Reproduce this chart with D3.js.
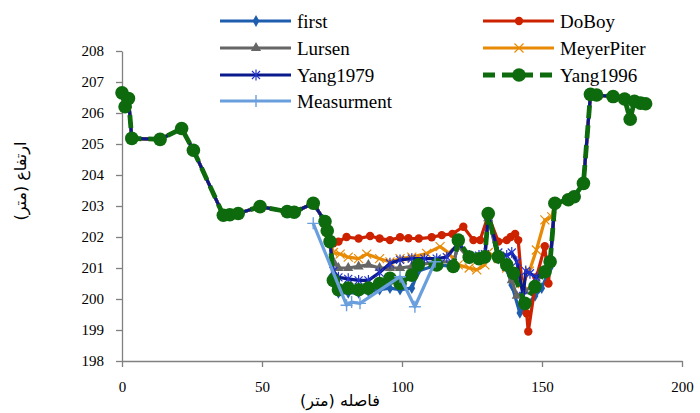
<!DOCTYPE html>
<html>
<head>
<meta charset="utf-8">
<script src="https://cdn.jsdelivr.net/npm/d3@7"></script>
<style>
  html, body { margin: 0; padding: 0; background: #fff; }
  svg { display: block; }
</style>
</head>
<body>
<svg id="chart" width="700" height="413"></svg>
<script>
// Bank profile shared by every computed bed (left and right of the channel)
const bankLeftX  = [0, 1.1, 2.3, 3.5, 13.6, 21.3, 25.5, 36.2, 38.5, 41.5, 49.3, 59, 61.5, 68.3];
const bankLeftY  = [206.65, 206.2, 206.47, 205.18, 205.15, 205.5, 204.8, 202.7, 202.72, 202.76, 202.98, 202.82, 202.8, 203.09];
const bankRightX = [154.6, 159.4, 161.5, 164.8, 167.3, 169.5, 175.4, 179.5, 181.5, 183, 185.2, 187];
const bankRightY = [203.09, 203.2, 203.3, 203.73, 206.6, 206.58, 206.53, 206.45, 205.8, 206.38, 206.32, 206.3];

// Channel stretch of each series
const firstX = [72.5, 74.3, 75.5, 77.3, 80.8, 84.5, 88, 92, 95.7, 99.3, 103.5, 105.8, 112.4, 118.3, 120.1, 124, 127.5, 129.6, 130.8, 134.4, 137.4, 139.2, 142.1, 144, 147.5, 149.9, 152.9];
const firstY = [202.5, 201.85, 200.5, 200.2, 200.2, 200.2, 200.25, 200.3, 200.35, 200.3, 200.35, 200.9, 201.1, 201.05, 201.85, 201.3, 201.3, 201.3, 202.7, 201.3, 201.0, 200.45, 199.55, 199.75, 200.1, 200.35, 201.0];

const doboyX = [72.5, 74.3, 75.5, 77.3, 80.2, 84.5, 88.6, 92, 95.7, 99.3, 102.3, 106, 110.6, 114.2, 118, 121.9, 125.5, 127.9, 130.8, 134.4, 137.4, 138.8, 140.4, 141.5, 143.5, 144.5, 145.1, 148, 151, 152.3];
const doboyY = [202.5, 201.85, 201.8, 201.85, 202.0, 201.95, 202.03, 201.95, 201.9, 201.99, 201.96, 201.95, 201.99, 202.06, 202.1, 202.33, 201.9, 201.9, 202.7, 201.85, 201.9, 202.0, 202.1, 201.9, 199.8, 199.54, 198.95, 200.7, 201.7, 200.5];

const lursenX = [72.5, 74.3, 75.5, 77.3, 80.8, 84.5, 88, 92, 95.7, 99.3, 103.5, 105.8, 112.4, 118.3, 120.1, 124, 127.5, 129.6, 130.8, 134.4, 137.4, 139.2, 141, 143.9, 147.5, 151.1, 152.9];
const lursenY = [202.5, 201.85, 201.2, 201.0, 201.0, 201.05, 201.1, 201.0, 201.0, 201.0, 201.05, 201.1, 201.2, 201.2, 201.7, 201.3, 201.3, 201.35, 202.6, 201.3, 201.0, 200.6, 200.1, 200.25, 200.5, 200.9, 201.2];

const meyerX = [72.5, 74.3, 75.5, 77.9, 80.8, 84.5, 87.4, 92, 95.7, 99.3, 103.5, 108.8, 113.6, 116.5, 120.1, 124, 126.7, 129.6, 130.8, 134.4, 137.4, 139.8, 143, 145.5, 148, 151, 153.5];
const meyerY = [202.5, 201.85, 201.5, 201.45, 201.35, 201.3, 201.45, 201.3, 201.2, 201.3, 201.35, 201.47, 201.69, 201.5, 201.1, 201.0, 200.94, 201.1, 201.5, 201.3, 201.0, 200.8, 200.5, 200.9, 201.58, 202.55, 202.65];

const yang79X = [72.5, 74.3, 75.5, 77.3, 80.8, 84.5, 88, 92, 95.7, 99.3, 103.5, 108, 112.4, 116, 120.1, 124, 127.5, 129.6, 130.8, 134.4, 137.4, 139.2, 141, 143.3, 144.2, 145.7, 148, 151.1, 152.9];
const yang79Y = [202.5, 201.85, 200.9, 200.7, 200.65, 200.6, 200.6, 200.85, 201.15, 201.26, 201.3, 201.3, 201.3, 201.35, 201.8, 201.4, 201.4, 201.45, 202.7, 201.5, 201.4, 201.5, 201.2, 200.1, 200.9, 200.83, 200.7, 200.9, 201.2];

const yang96X = [72.5, 73.3, 74.3, 75.5, 77.3, 80.8, 84.5, 88, 92, 95.7, 99.3, 103.5, 105.8, 112.4, 118.3, 120.1, 124, 127.5, 129.6, 130.8, 134.4, 137.4, 139.8, 143.9, 147.5, 151.1, 152.9];
const yang96Y = [202.5, 202.2, 201.85, 200.6, 200.3, 200.35, 200.3, 200.35, 200.5, 200.67, 200.5, 200.77, 201.1, 201.1, 201.05, 201.9, 201.35, 201.3, 201.36, 202.76, 201.36, 201.1, 200.83, 199.86, 200.4, 200.88, 201.2];

// Surveyed bed (channel only)
const measX = [68.3, 80.2, 82, 85, 99.3, 104.6, 111.8];
const measY = [202.44, 199.8, 199.9, 199.86, 200.72, 199.75, 201.2];

const xTicks = [0, 50, 100, 150, 200];
const yTicks = [198, 199, 200, 201, 202, 203, 204, 205, 206, 207, 208];
const xTitle = "فاصله (متر)";
const yTitle = "ارتفاع (متر)";

const serifFont = "'Liberation Serif', 'DejaVu Serif', 'Times New Roman', serif";
const arabicFont = "'DejaVu Sans', 'Noto Sans', sans-serif";

const zip = (xs, ys) => xs.map((d, i) => ({ x: d, y: ys[i] }));
const withBanks = (xs, ys) => zip(bankLeftX, bankLeftY).concat(zip(xs, ys), zip(bankRightX, bankRightY));

const series = [
  { name: "first",      color: "#1F5DAE", width: 3.2, dash: null,   marker: "diamond",  pts: withBanks(firstX, firstY) },
  { name: "DoBoy",      color: "#CC2200", width: 3.2, dash: null,   marker: "circle",   pts: withBanks(doboyX, doboyY) },
  { name: "Lursen",     color: "#666666", width: 3.2, dash: null,   marker: "triangle", pts: withBanks(lursenX, lursenY) },
  { name: "MeyerPiter", color: "#E88A05", width: 3.2, dash: null,   marker: "x",        pts: withBanks(meyerX, meyerY) },
  { name: "Yang1979",   color: "#0A1A8C", width: 3.2, dash: null,   marker: "star",     pts: withBanks(yang79X, yang79Y) },
  { name: "Yang1996",   color: "#0D6A0D", width: 4.8, dash: "13,7", marker: "bigcircle", pts: withBanks(yang96X, yang96Y) },
  { name: "Measurment", color: "#6A9FDE", width: 3.2, dash: null,   marker: "plus",     pts: zip(measX, measY) }
];

const svg = d3.select("#chart");
const x = d3.scaleLinear().domain([0, 200]).range([122, 682]);
const y = d3.scaleLinear().domain([198, 208]).range([361, 51]);

// Axes
const axisColor = "#808080";
const gx = svg.append("g").attr("transform", `translate(0,${y(198)})`)
  .call(d3.axisBottom(x).tickValues(xTicks).tickSize(6).tickSizeOuter(0).tickPadding(14));
const gy = svg.append("g").attr("transform", `translate(${x(0)},0)`)
  .call(d3.axisLeft(y).tickValues(yTicks).tickSize(6).tickSizeOuter(0).tickPadding(12));
[gx, gy].forEach(g => {
  g.attr("font-family", null).attr("font-size", null);
  g.select(".domain").attr("stroke", axisColor).attr("stroke-width", 1.3);
  g.selectAll(".tick line").attr("stroke", axisColor).attr("stroke-width", 1.3);
  g.selectAll(".tick text").style("font-family", serifFont).style("font-size", "15px").attr("fill", "#000");
});

// Marker drawing
function drawMarker(sel, kind, color) {
  if (kind === "diamond") {
    sel.append("path").attr("d", d3.symbol(d3.symbolDiamond, 40)()).attr("fill", color);
  } else if (kind === "circle") {
    sel.append("circle").attr("r", 4.2).attr("fill", color);
  } else if (kind === "bigcircle") {
    sel.append("circle").attr("r", 6.8).attr("fill", color);
  } else if (kind === "triangle") {
    sel.append("path").attr("d", d3.symbol(d3.symbolTriangle, 45)()).attr("fill", color);
  } else if (kind === "x") {
    sel.append("path").attr("d", "M-4.5,-4.5L4.5,4.5M-4.5,4.5L4.5,-4.5")
      .attr("stroke", color).attr("stroke-width", 1.2).attr("fill", "none");
  } else if (kind === "star") {
    sel.append("path").attr("d", "M-4,-4L4,4M-4,4L4,-4M0,-5.5V5.5")
      .attr("stroke", "#2233CC").attr("stroke-width", 1.2).attr("fill", "none");
  } else if (kind === "plus") {
    sel.append("path").attr("d", "M-6,0H6M0,-6V6")
      .attr("stroke", color).attr("stroke-width", 1.4).attr("fill", "none");
  }
}

const line = d3.line().x(d => x(d.x)).y(d => y(d.y));
const plot = svg.append("g");
series.forEach(s => {
  const g = plot.append("g");
  g.append("path").datum(s.pts).attr("d", line)
    .attr("fill", "none").attr("stroke", s.color).attr("stroke-width", s.width)
    .attr("stroke-linejoin", "round")
    .attr("stroke-dasharray", s.dash);
  g.selectAll("g.m").data(s.pts).enter().append("g")
    .attr("class", "m")
    .attr("transform", d => `translate(${x(d.x)},${y(d.y)})`)
    .each(function () { drawMarker(d3.select(this), s.marker, s.color); });
});

// Legend (two columns, drawn over the plot)
const legendCols = [220, 483];
const legendRows = [21, 48, 75, 101];
const legend = svg.append("g");
series.forEach((s, i) => {
  const lx = legendCols[i % 2];
  const ly = legendRows[Math.floor(i / 2)];
  const g = legend.append("g").attr("transform", `translate(${lx},${ly})`);
  g.append("line").attr("x1", 0).attr("x2", 71).attr("y1", 0).attr("y2", 0)
    .attr("stroke", s.color).attr("stroke-width", s.width)
    .attr("stroke-dasharray", s.dash ? "12,7" : null);
  drawMarker(g.append("g").attr("transform", "translate(36,0)"), s.marker, s.color);
  g.append("text").attr("x", 77).attr("y", 0).attr("dy", "0.35em")
    .style("font-family", serifFont).style("font-size", "19px").attr("fill", "#000")
    .text(s.name);
});

// Axis titles
svg.append("text")
  .style("font-family", arabicFont).style("font-size", "16px")
  .attr("x", 340).attr("y", 406).attr("text-anchor", "middle")
  .text(xTitle);
svg.append("text")
  .style("font-family", arabicFont).style("font-size", "16px")
  .attr("transform", `translate(26,${(y(208) + y(198)) / 2 - 25}) rotate(-90)`)
  .attr("text-anchor", "middle")
  .text(yTitle);
</script>
</body>
</html>
